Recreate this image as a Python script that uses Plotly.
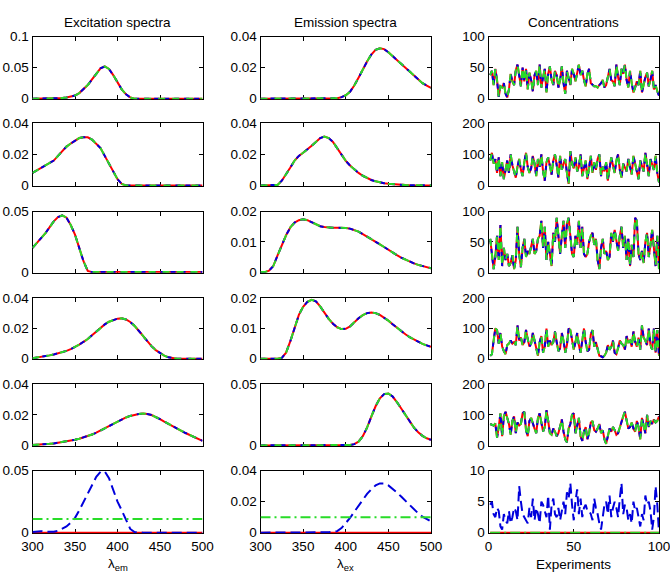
import plotly.graph_objects as go

# ---------------- data ----------------
wavelength = list(range(300, 501, 5))
wl_ticks = [300, 350, 400, 450, 500]
experiments = list(range(1, 101))
exp_ticks = [0, 50, 100]

# Excitation spectra (rows 1-5), row 6 = blue profile, red = 0, green = 0.011
ex1 = [0, 0, 0, 0, 0, 0, 0.0005, 0.001, 0.002, 0.003, 0.005, 0.009, 0.015, 0.022, 0.031, 0.041, 0.049, 0.052,
       0.048, 0.038, 0.026, 0.015, 0.007, 0.002, 0, 0, 0, 0, 0, 0, 0, 0, 0, 0, 0, 0, 0, 0, 0, 0, 0]
ex2 = [0.008, 0.0095, 0.011, 0.0125, 0.014, 0.016, 0.019, 0.022, 0.025, 0.027, 0.029, 0.0305, 0.031, 0.031,
       0.0295, 0.027, 0.024, 0.019, 0.014, 0.009, 0.004, 0.001, 0, 0, 0, 0, 0, 0, 0, 0, 0, 0, 0, 0, 0, 0, 0, 0,
       0, 0, 0]
ex3 = [0.020, 0.024, 0.028, 0.032, 0.037, 0.042, 0.0455, 0.047, 0.045, 0.039, 0.031, 0.020, 0.009, 0.001,
       0, 0, 0, 0, 0, 0, 0, 0, 0, 0, 0, 0, 0, 0, 0, 0, 0, 0, 0, 0, 0, 0, 0, 0, 0, 0, 0]
ex4 = [0.0003, 0.0007, 0.0012, 0.0017, 0.0022, 0.0028, 0.0035, 0.0043, 0.0052, 0.0063, 0.0077, 0.0093, 0.0112,
       0.013, 0.0155, 0.018, 0.0205, 0.0227, 0.0245, 0.0257, 0.0265, 0.0267, 0.026, 0.0243, 0.0218, 0.0185, 0.015,
       0.0115, 0.0083, 0.0057, 0.0036, 0.002, 0.0009, 0.0003, 0, 0, 0, 0, 0, 0, 0]
ex5 = [0.0002, 0.0003, 0.0005, 0.0007, 0.001, 0.0013, 0.0017, 0.0021, 0.0026, 0.0031, 0.0037, 0.0044, 0.0052,
       0.0061, 0.0071, 0.0083, 0.0097, 0.0112, 0.0128, 0.0144, 0.0158, 0.0171, 0.0183, 0.0193, 0.0201, 0.0206,
       0.0208, 0.0206, 0.0199, 0.0187, 0.0172, 0.0156, 0.014, 0.0124, 0.0109, 0.0094, 0.0081, 0.0068, 0.0055,
       0.0043, 0.003]
ex6 = [0.0005, 0.001, 0.0012, 0.0008, 0.0005, 0.0008, 0.0015, 0.003, 0.005, 0.008, 0.012, 0.018, 0.025, 0.032,
       0.039, 0.045, 0.049, 0.0495, 0.044, 0.034, 0.025, 0.018, 0.010, 0.003, 0.0005, 0, 0, 0, 0, 0, 0, 0, 0, 0,
       0, 0, 0, 0, 0, 0, 0]
ex6_level = 0.011

# Emission spectra
em1 = [0, 0, 0, 0, 0, 0, 0, 0, 0, 0, 0, 0, 0, 0, 0, 0, 0, 0, 0.0003, 0.001, 0.0022, 0.0045, 0.0085, 0.0135,
       0.019, 0.024, 0.0285, 0.0315, 0.0325, 0.032, 0.030, 0.0275, 0.025, 0.022, 0.0195, 0.017, 0.0145, 0.0122,
       0.01, 0.0085, 0.007]
em2 = [0, 0, 0, 0, 0.0003, 0.003, 0.007, 0.0115, 0.016, 0.019, 0.021, 0.023, 0.0255, 0.028, 0.0305, 0.0315,
       0.0305, 0.028, 0.024, 0.0195, 0.0158, 0.0128, 0.0102, 0.008, 0.0062, 0.0047, 0.0035, 0.0026, 0.0019,
       0.0014, 0.001, 0.0007, 0.0005, 0.0003, 0.0002, 0.0001, 0, 0, 0, 0, 0]
em3 = [0, 0, 0.0005, 0.002, 0.0055, 0.009, 0.0122, 0.0148, 0.0164, 0.0172, 0.0175, 0.0172, 0.0166, 0.0158,
       0.0152, 0.0149, 0.0147, 0.0147, 0.0147, 0.0147, 0.0146, 0.0144, 0.014, 0.0134, 0.0126, 0.0118, 0.0109,
       0.0101, 0.0092, 0.0083, 0.0073, 0.0064, 0.0056, 0.0048, 0.0041, 0.0034, 0.0029, 0.0024, 0.002, 0.0016,
       0.0013]
em4 = [0, 0, 0, 0, 0, 0.0003, 0.002, 0.0058, 0.0105, 0.0145, 0.0172, 0.0188, 0.0195, 0.019, 0.0173, 0.0152,
       0.0132, 0.0116, 0.0104, 0.0098, 0.0099, 0.0107, 0.0121, 0.0134, 0.0144, 0.0151, 0.0153, 0.0151, 0.0145,
       0.0136, 0.0126, 0.0114, 0.0102, 0.0091, 0.0081, 0.0071, 0.0063, 0.0056, 0.0049, 0.0044, 0.0039]
em5 = [0, 0, 0, 0, 0, 0, 0, 0, 0, 0, 0, 0, 0, 0.0002, 0.0003, 0.0002, 0.0002, 0.0003, 0.0002, 0.0001, 0.0001,
       0.0003, 0.001, 0.003, 0.0075, 0.0145, 0.0235, 0.032, 0.0385, 0.042, 0.0425, 0.040, 0.0355, 0.030, 0.0245,
       0.019, 0.0145, 0.0108, 0.0078, 0.0058, 0.0045]
em6 = [0, 0, 0, 0, 0, 0, 0, 0, 0, 0, 0, 0, 0, 0, 0, 0, 0.0003, 0.0005, 0.001, 0.003, 0.006, 0.0095, 0.0135,
       0.0175, 0.0215, 0.025, 0.028, 0.0305, 0.0318, 0.0318, 0.0305, 0.0285, 0.026, 0.0233, 0.0205, 0.0178,
       0.015, 0.0125, 0.0103, 0.0085, 0.0072]
em6_level = 0.010

# Concentrations
c1 = [38, 45, 22, 48, 30, 3, 20, 18, 25, 8, 2, 15, 40, 28, 22, 46, 55, 35, 20, 50, 28, 48, 15, 42, 30, 12, 38,
      45, 22, 55, 18, 35, 48, 10, 40, 52, 30, 22, 45, 38, 18, 30, 52, 25, 8, 45, 35, 22, 48, 40, 28, 42, 55, 38,
      45, 30, 20, 40, 48, 25, 22, 20, 20, 18, 22, 25, 30, 18, 22, 35, 48, 30, 28, 20, 55, 35, 22, 48, 40, 55, 30,
      18, 45, 25, 10, 18, 28, 22, 45, 10, 25, 35, 42, 20, 30, 45, 15, 22, 12, 5]
c2 = [80, 105, 70, 85, 40, 90, 30, 75, 20, 55, 80, 40, 100, 65, 45, 25, 60, 85, 50, 30, 75, 105, 60, 40, 55,
      95, 70, 30, 85, 60, 100, 45, 15, 75, 90, 55, 35, 80, 100, 65, 25, 95, 50, 70, 85, 40, 5, 110, 70, 55, 90,
      45, 60, 100, 30, 55, 80, 20, 65, 95, 40, 75, 50, 85, 100, 30, 60, 45, 75, 15, 55, 90, 65, 40, 80, 100, 50,
      25, 70, 55, 45, 85, 60, 35, 95, 70, 50, 20, 80, 60, 45, 105, 60, 30, 85, 70, 50, 95, 40, 10]
c3 = [55, 30, 5, 25, 60, 20, 78, 10, 40, 20, 30, 10, 15, 28, 5, 20, 75, 30, 8, 40, 55, 25, 35, 30, 45, 55, 30,
      35, 55, 60, 85, 40, 75, 20, 50, 30, 10, 65, 50, 90, 55, 30, 60, 85, 40, 80, 90, 55, 30, 25, 60, 45, 85, 40,
      75, 30, 25, 30, 50, 60, 65, 45, 55, 20, 5, 40, 55, 30, 35, 20, 25, 65, 50, 70, 55, 35, 60, 75, 40, 60, 20,
      55, 10, 45, 25, 90, 85, 30, 20, 35, 15, 50, 65, 25, 45, 70, 40, 10, 60, 5]
c4 = [10, 15, 60, 100, 95, 50, 85, 40, 25, 15, 45, 50, 60, 50, 55, 45, 110, 60, 70, 45, 55, 95, 65, 40, 50, 85,
      60, 35, 10, 55, 75, 20, 40, 100, 40, 60, 45, 55, 90, 55, 25, 35, 85, 60, 20, 45, 100, 95, 60, 30, 55, 85,
      45, 20, 60, 100, 55, 25, 30, 80, 95, 40, 55, 30, 10, 8, 5, 10, 20, 45, 30, 40, 60, 20, 15, 35, 60, 50, 45,
      30, 75, 55, 60, 40, 90, 55, 40, 70, 30, 110, 70, 60, 45, 100, 45, 30, 100, 20, 95, 10]
c5 = [70, 68, 65, 72, 25, 60, 105, 30, 95, 110, 90, 70, 35, 80, 95, 40, 75, 65, 70, 105, 110, 50, 30, 80, 90,
      70, 55, 40, 90, 105, 75, 45, 60, 115, 80, 40, 35, 55, 45, 30, 40, 60, 85, 45, 20, 10, 55, 70, 100, 105, 40,
      65, 90, 30, 15, 45, 60, 20, 40, 75, 80, 50, 45, 55, 70, 40, 50, 20, 5, 30, 55, 45, 60, 50, 35, 40, 60, 75,
      95, 110, 85, 55, 60, 75, 55, 45, 80, 60, 20, 90, 65, 40, 100, 60, 80, 70, 85, 75, 80, 95]
c6 = [4.5, 5, 3, 2.5, 4, 3.5, 1, 0.5, 3, 2, 1.5, 3.5, 1.5, 2.5, 4, 3.5, 2, 7.5, 5, 3, 2.5, 2, 1.5, 4, 2.5, 5.5,
      2, 4, 3, 1.5, 5, 4.5, 3.5, 2.5, 6, 0.5, 4.5, 5.5, 3, 2.5, 4, 2, 3.5, 5, 3, 6.5, 5.5, 8, 4.5, 2, 5, 7, 3,
      5.5, 2.5, 4, 4.5, 3.5, 3.5, 3, 2, 5.5, 4, 3, 1.5, 0.5, 2.5, 4.5, 5, 3, 6, 2.5, 4, 5, 4, 2.5, 5.5, 8, 3,
      4.5, 4, 2, 3, 1.5, 5, 3.5, 4, 2.5, 1, 3, 2, 6, 4.5, 5, 3.5, 0.5, 2.5, 7.5, 4.5, 0]
c6_level = 0

ex_data = [ex1, ex2, ex3, ex4, ex5, ex6]
em_data = [em1, em2, em3, em4, em5, em6]
conc_data = [c1, c2, c3, c4, c5, c6]

ex_ymax = [0.1, 0.04, 0.05, 0.04, 0.04, 0.05]
ex_ticks = [[0, 0.05, 0.1], [0, 0.02, 0.04], [0, 0.05], [0, 0.02, 0.04], [0, 0.02, 0.04], [0, 0.05]]
em_ymax = [0.04, 0.04, 0.02, 0.02, 0.05, 0.04]
em_ticks = [[0, 0.02, 0.04], [0, 0.02, 0.04], [0, 0.01, 0.02], [0, 0.01, 0.02], [0, 0.05], [0, 0.02, 0.04]]
conc_ymax = [100, 200, 100, 200, 200, 10]
conc_ticks = [[0, 50, 100], [0, 100, 200], [0, 50, 100], [0, 100, 200], [0, 100, 200], [0, 5, 10]]

col_titles = ["Excitation spectra", "Emission spectra", "Concentrations"]
col_xlabels = ["λ<sub>em</sub>", "λ<sub>ex</sub>", "Experiments"]

# ---------------- layout ----------------
W, H = 670, 582
cols_px = [(32.5, 202.5), (260.5, 431), (488.5, 659)]
rows_px = [(36.7, 99.3), (123.3, 186), (211.7, 272.7), (298.3, 359.3), (384.3, 446), (470.7, 533.3)]

RED = "rgb(255,0,0)"
BLUE = "rgb(0,0,220)"
GREEN = "rgb(40,220,40)"
FONT = "Liberation Sans, Arial, sans-serif"
FS = 13.5


def fmt(v):
    return "%g" % v


fig = go.Figure()
layout = {}

for c in range(3):
    for r in range(6):
        k = r * 3 + c + 1
        xa = "x" if k == 1 else "x%d" % k
        ya = "y" if k == 1 else "y%d" % k
        if c == 0:
            xs, data, ymax, yt = wavelength, ex_data[r], ex_ymax[r], ex_ticks[r]
        elif c == 1:
            xs, data, ymax, yt = wavelength, em_data[r], em_ymax[r], em_ticks[r]
        else:
            xs, data, ymax, yt = experiments, conc_data[r], conc_ymax[r], conc_ticks[r]

        if r < 5:
            red_y, blue_y, green_y = data, data, data
            bdash, gdash = "5px,5px", "7px,7px"
        else:
            lvl = [ex6_level, em6_level, c6_level][c]
            red_y = [0.0] * len(xs)
            blue_y = data
            green_y = [lvl] * len(xs)
            bdash, gdash = "10px,5px", "10px,4px,2px,4px"

        fig.add_trace(go.Scatter(x=xs, y=red_y, mode="lines", xaxis=xa, yaxis=ya,
                                 line=dict(color=RED, width=2), showlegend=False, hoverinfo="skip"))
        fig.add_trace(go.Scatter(x=xs, y=blue_y, mode="lines", xaxis=xa, yaxis=ya,
                                 line=dict(color=BLUE, width=2, dash=bdash), showlegend=False, hoverinfo="skip"))
        fig.add_trace(go.Scatter(x=xs, y=green_y, mode="lines", xaxis=xa, yaxis=ya,
                                 line=dict(color=GREEN, width=2, dash=gdash), showlegend=False, hoverinfo="skip"))

        x0, x1 = cols_px[c]
        y0, y1 = rows_px[r]
        xticks = wl_ticks if c < 2 else exp_ticks
        xrange = [300, 500] if c < 2 else [0, 100]
        common = dict(ticks="inside", ticklen=4, tickwidth=1, tickcolor="black", showline=True,
                      linecolor="black", linewidth=1, mirror="ticks", showgrid=False, zeroline=False,
                      automargin=False, ticklabeloverflow="allow",
                      tickfont=dict(size=FS, color="black", family=FONT), layer="below traces")
        layout["xaxis" if k == 1 else "xaxis%d" % k] = dict(
            domain=[x0 / W, x1 / W], anchor=ya, range=xrange, tickmode="array", tickvals=xticks,
            ticktext=[fmt(v) for v in xticks], showticklabels=(r == 5), **common)
        layout["yaxis" if k == 1 else "yaxis%d" % k] = dict(
            domain=[1 - y1 / H, 1 - y0 / H], anchor=xa, range=[-0.01 * ymax, ymax], tickmode="array",
            tickvals=yt, ticktext=[fmt(v) for v in yt], **common)

annotations = []
for c in range(3):
    x0, x1 = cols_px[c]
    annotations.append(dict(text=col_titles[c], x=(x0 + x1) / 2 / W, y=1 - 23 / H, xref="paper", yref="paper",
                            showarrow=False, xanchor="center", yanchor="middle",
                            font=dict(size=FS, color="black", family=FONT)))
    annotations.append(dict(text=col_xlabels[c], x=(x0 + x1) / 2 / W, y=1 - 564 / H, xref="paper", yref="paper",
                            showarrow=False, xanchor="center", yanchor="middle",
                            font=dict(size=FS, color="black", family=FONT)))

fig.update_layout(width=W, height=H, margin=dict(l=0, r=0, t=0, b=0, pad=0, autoexpand=False),
                  paper_bgcolor="white", plot_bgcolor="white", annotations=annotations, showlegend=False,
                  font=dict(family=FONT, color="black"), **layout)

fig.write_html("out.html")
